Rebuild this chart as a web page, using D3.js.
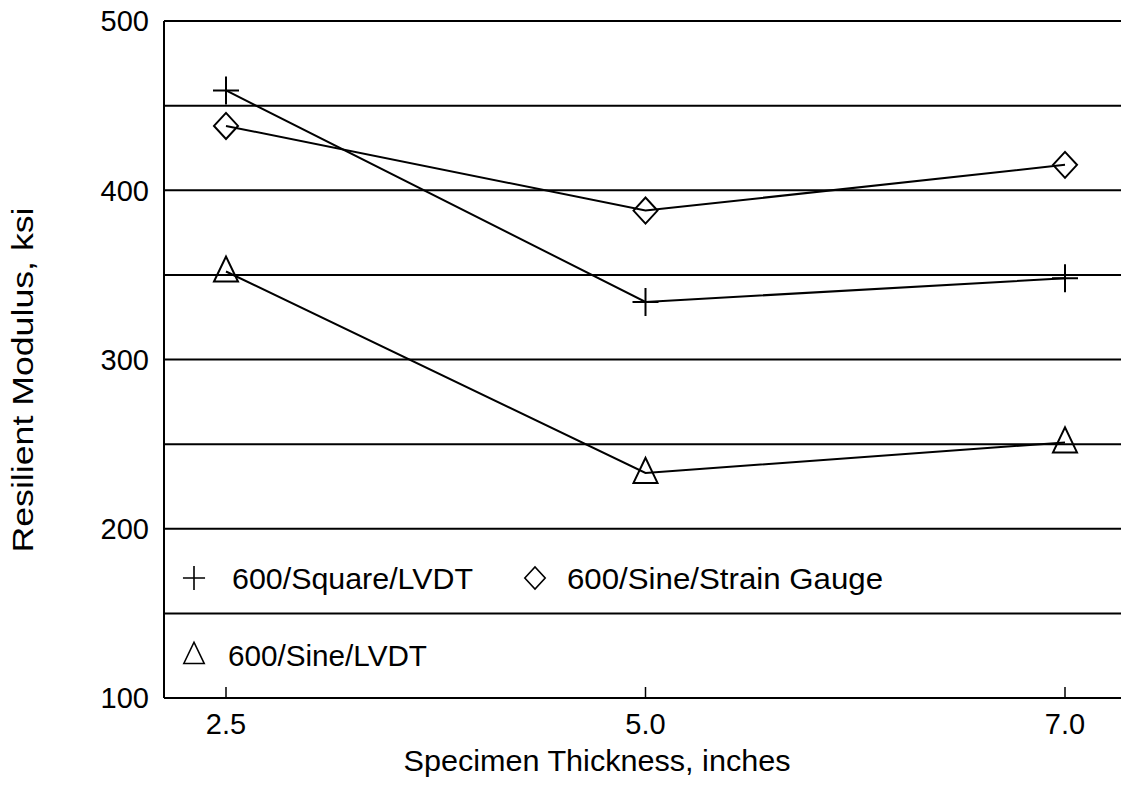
<!DOCTYPE html>
<html>
<head>
<meta charset="utf-8">
<script src="https://cdn.jsdelivr.net/npm/d3@7/dist/d3.min.js"></script>
<style>
body { margin: 0; background: #fff; }
svg text { font-family: "Liberation Sans", Arial, sans-serif; fill: #000; }
</style>
</head>
<body>
<script>
// chart data
var thickness = ["2.5", "5.0", "7.0"];
var yTicks = [100, 200, 300, 400, 500];
var gridValues = [150, 200, 250, 300, 350, 400, 450, 500];
var squareLVDT = [459, 334, 348];
var sineGauge = [438, 388, 415];
var sineLVDT = [352, 233, 251];

var series = [
    { name: "600/Square/LVDT", values: squareLVDT, symbol: "plus" },
    { name: "600/Sine/Strain Gauge", values: sineGauge, symbol: "diamond" },
    { name: "600/Sine/LVDT", values: sineLVDT, symbol: "triangle" }
];

var width = 1121, height = 792;
var plot = { left: 164, right: 1121, top: 21, bottom: 698 };
var stroke = 2;

var svg = d3.select("body").append("svg")
    .attr("width", width)
    .attr("height", height);

var x = d3.scalePoint()
    .domain(thickness)
    .range([226, 1065]);

var y = d3.scaleLinear()
    .domain([100, 500])
    .range([plot.bottom, plot.top]);

// horizontal grid lines
svg.append("g").selectAll("line")
    .data(gridValues)
  .enter().append("line")
    .attr("x1", plot.left)
    .attr("x2", plot.right)
    .attr("y1", function(d) { return y(d); })
    .attr("y2", function(d) { return y(d); })
    .attr("stroke", "#000")
    .attr("stroke-width", stroke);

// left + bottom axis lines
svg.append("line")
    .attr("x1", plot.left).attr("x2", plot.left)
    .attr("y1", plot.top).attr("y2", plot.bottom)
    .attr("stroke", "#000").attr("stroke-width", stroke);
svg.append("line")
    .attr("x1", plot.left).attr("x2", plot.right)
    .attr("y1", plot.bottom).attr("y2", plot.bottom)
    .attr("stroke", "#000").attr("stroke-width", stroke);

// y tick labels
svg.append("g").selectAll("text")
    .data(yTicks)
  .enter().append("text")
    .attr("x", 149)
    .attr("y", function(d) { return y(d); })
    .attr("dy", "0.36em")
    .attr("text-anchor", "end")
    .attr("font-size", 29)
    .text(function(d) { return d; });

// x ticks (pointing up) and labels
var xt = svg.append("g").selectAll("g")
    .data(thickness)
  .enter().append("g")
    .attr("transform", function(d) { return "translate(" + x(d) + "," + plot.bottom + ")"; });
xt.append("line")
    .attr("y1", 0).attr("y2", -11)
    .attr("stroke", "#000").attr("stroke-width", 1.5);
xt.append("text")
    .attr("y", 36)
    .attr("text-anchor", "middle")
    .attr("font-size", 29)
    .text(function(d) { return d; });

// axis titles
svg.append("text")
    .attr("x", 597)
    .attr("y", 771)
    .attr("text-anchor", "middle")
    .attr("font-size", 30)
    .attr("textLength", 387)
    .attr("lengthAdjust", "spacingAndGlyphs")
    .text("Specimen Thickness, inches");

svg.append("text")
    .attr("transform", "translate(33,380) rotate(-90)")
    .attr("text-anchor", "middle")
    .attr("font-size", 29)
    .attr("textLength", 345)
    .attr("lengthAdjust", "spacingAndGlyphs")
    .text("Resilient Modulus, ksi");

// symbol paths
function symbolPath(kind, big) {
    var k = big ? 1 : 0.85;
    if (kind === "plus") return "M" + (-13 * k) + ",0H" + (13 * k) + "M0," + (-14 * k) + "V" + (14 * k);
    if (kind === "diamond") return "M" + (-12 * k) + ",0L0," + (-13 * k) + "L" + (12 * k) + ",0L0," + (13 * k) + "Z";
    return "M" + (-12 * k) + "," + (10 * k) + "L0," + (-15 * k) + "L" + (12 * k) + "," + (10 * k) + "Z";
}

var line = d3.line()
    .x(function(d, i) { return x(thickness[i]); })
    .y(function(d) { return y(d); });

series.forEach(function(s) {
    svg.append("path")
        .attr("d", line(s.values))
        .attr("fill", "none")
        .attr("stroke", "#000")
        .attr("stroke-width", stroke);

    svg.append("g").selectAll("path")
        .data(s.values)
      .enter().append("path")
        .attr("transform", function(d, i) { return "translate(" + x(thickness[i]) + "," + y(d) + ")"; })
        .attr("d", symbolPath(s.symbol, true))
        .attr("fill", "none")
        .attr("stroke", "#000")
        .attr("stroke-width", stroke);
});

// legend
var legendItems = [
    { s: series[0], sx: 194, tx: 232, ty: 578, len: 241 },
    { s: series[1], sx: 535, tx: 567, ty: 578, len: 316 },
    { s: series[2], sx: 194, tx: 228, ty: 655, len: 199 }
];
var lg = svg.append("g");
legendItems.forEach(function(it) {
    lg.append("path")
        .attr("transform", "translate(" + it.sx + "," + it.ty + ")")
        .attr("d", symbolPath(it.s.symbol, false))
        .attr("fill", "none")
        .attr("stroke", "#000")
        .attr("stroke-width", 1.6);
    lg.append("text")
        .attr("x", it.tx)
        .attr("y", it.ty)
        .attr("dy", "0.36em")
        .attr("font-size", 30)
        .attr("textLength", it.len)
        .attr("lengthAdjust", "spacingAndGlyphs")
        .text(it.s.name);
});
</script>
</body>
</html>
